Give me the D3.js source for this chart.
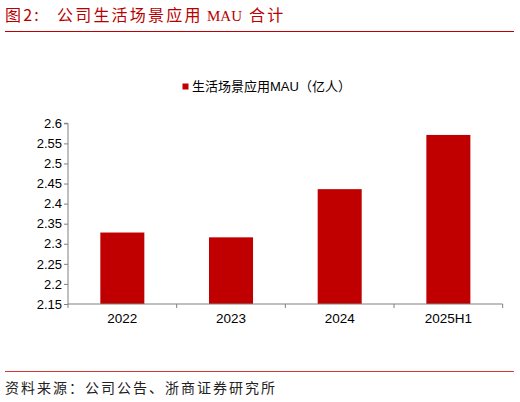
<!DOCTYPE html>
<html>
<head>
<meta charset="utf-8">
<script src="https://cdn.jsdelivr.net/npm/d3@7"></script>
<style>
  body { margin: 0; background: #fff; }
  text { font-family: "Liberation Sans", Arial, "Noto Sans CJK SC", sans-serif; }
  .cjk { font-family: "Noto Sans CJK SC", sans-serif; }
</style>
</head>
<body>
<div id="chart"></div>
<script>
// data
const categories = ['2022', '2023', '2024', '2025H1']
const mau = [2.328, 2.316, 2.436, 2.571]
const yTicks = [2.15, 2.2, 2.25, 2.3, 2.35, 2.4, 2.45, 2.5, 2.55, 2.6]
const seriesName = '生活场景应用MAU（亿人）'
const titleParts = [['图2:', 5], ['公司生活场景应用', 57], ['MAU', 207], ['合计', 249]]

const w = 520
const h = 402
const red = '#c00000'

const svg = d3.select('#chart')
    .append('svg')
    .attr('width', w)
    .attr('height', h)

// title + rules
const title = svg.append('text')
    .attr('y', 21)
    .attr('fill', '#b80000')
    .style('font-size', '16px')
    .attr('class', 'cjk')
title.selectAll('tspan')
    .data(titleParts)
    .enter()
    .append('tspan')
    .attr('x', d => d[1])
    .style('font-family', d => d[0] == 'MAU' ? '"Liberation Serif", "Noto Sans CJK SC"' : null)
    .style('font-size', d => d[0] == 'MAU' ? '15px' : null)
    .style('letter-spacing', d => d[0] == 'MAU' ? '0px' : '2.2px')
    .text(d => d[0])

svg.append('line')
    .attr('x1', 5).attr('x2', 514)
    .attr('y1', 31.5).attr('y2', 31.5)
    .attr('stroke', red)
    .attr('stroke-width', 1.2)

svg.append('line')
    .attr('x1', 5).attr('x2', 514)
    .attr('y1', 371.5).attr('y2', 371.5)
    .attr('stroke', '#d03838')
    .attr('stroke-width', 1.2)

svg.append('text')
    .attr('x', 5)
    .attr('y', 393)
    .attr('class', 'cjk')
    .style('font-size', '14px')
    .style('letter-spacing', '2px')
    .attr('fill', '#222')
    .text('资料来源：公司公告、浙商证券研究所')

// plot area
const pLeft = 68, pRight = 502.7, pTop = 123.3, pBottom = 304

const x = d3.scaleBand()
    .domain(categories)
    .range([pLeft, pRight])
    .paddingInner(0.595)
    .paddingOuter(0.2975)

const y = d3.scaleLinear()
    .domain([2.15, 2.6])
    .range([pBottom, pTop])

svg.selectAll('rect.bar')
    .data(mau)
    .enter()
    .append('rect')
    .attr('class', 'bar')
    .attr('x', (d, i) => x(categories[i]))
    .attr('y', d => y(d))
    .attr('width', x.bandwidth())
    .attr('height', d => pBottom - y(d))
    .attr('fill', red)

// y axis
const yAxis = d3.axisLeft(y)
    .tickValues(yTicks)
    .tickFormat(d3.format('~g'))
    .tickSize(4)
    .tickPadding(2)

const gy = svg.append('g')
    .attr('transform', `translate(${pLeft},0)`)
    .call(yAxis)
gy.select('.domain').attr('stroke', '#808080').attr('d', `M-4,${pTop}H0V${pBottom}`)
gy.selectAll('.tick line').attr('stroke', '#808080')
gy.selectAll('.tick text')
    .attr('fill', '#000')
    .style('font-size', '13px')
    .style('font-family', '"Liberation Sans", Arial, sans-serif')

// x axis: labels at band centres, ticks between categories
const xAxis = d3.axisBottom(x).tickSize(0).tickPadding(9)
const gx = svg.append('g')
    .attr('transform', `translate(0,${pBottom})`)
    .call(xAxis)
gx.select('.domain').attr('stroke', '#808080').attr('d', `M${pLeft},0H${pRight}`)
gx.selectAll('.tick text')
    .attr('fill', '#000')
    .style('font-size', '13.5px')
    .style('font-family', '"Liberation Sans", Arial, sans-serif')

const step = x.step()
const bounds = categories.map(c => x(c) + x.bandwidth() / 2 - step / 2)
bounds.push(pRight)
gx.selectAll('line.sep')
    .data(bounds)
    .enter()
    .append('line')
    .attr('class', 'sep')
    .attr('x1', d => d).attr('x2', d => d)
    .attr('y1', 0).attr('y2', 4)
    .attr('stroke', '#808080')

// legend
svg.append('rect')
    .attr('x', 182.5)
    .attr('y', 83.5)
    .attr('width', 6)
    .attr('height', 6)
    .attr('fill', red)

svg.append('text')
    .attr('x', 192)
    .attr('y', 91)
    .style('font-size', '13px')
    .attr('fill', '#000')
    .text(seriesName)
</script>
</body>
</html>
